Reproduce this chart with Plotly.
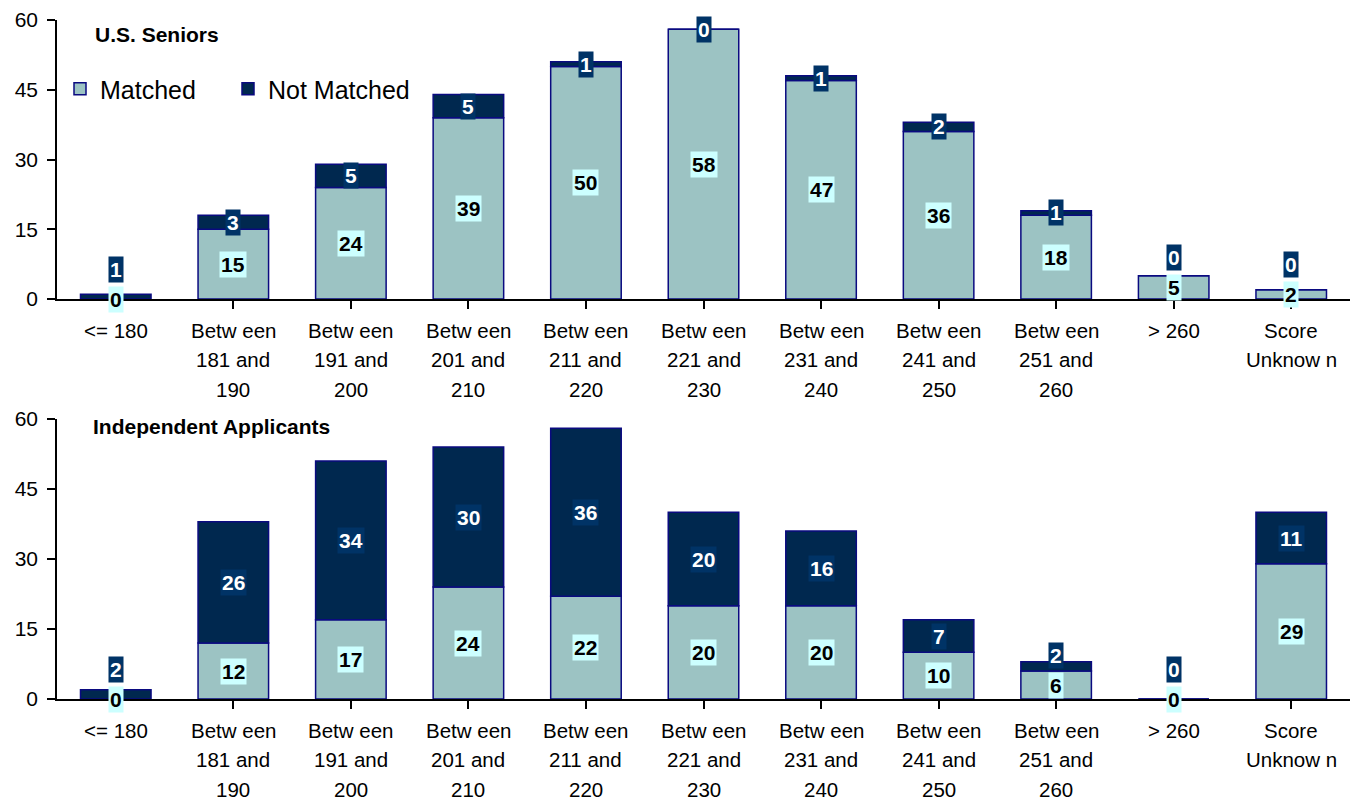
import plotly.graph_objects as go

categories = ["<= 180", "Betw een<br>181 and<br>190", "Betw een<br>191 and<br>200",
              "Betw een<br>201 and<br>210", "Betw een<br>211 and<br>220",
              "Betw een<br>221 and<br>230", "Betw een<br>231 and<br>240",
              "Betw een<br>241 and<br>250", "Betw een<br>251 and<br>260",
              "> 260", "Score<br>Unknow n"]
seniors_matched = [0, 15, 24, 39, 50, 58, 47, 36, 18, 5, 2]
seniors_not_matched = [1, 3, 5, 5, 1, 0, 1, 2, 1, 0, 0]
indep_matched = [0, 12, 17, 24, 22, 20, 20, 10, 6, 0, 29]
indep_not_matched = [2, 26, 34, 30, 36, 20, 16, 7, 2, 0, 11]
y_ticks = [0, 15, 30, 45, 60]
panel_titles = ["U.S. Seniors", "Independent Applicants"]

FONT = "Liberation Sans, Arial, sans-serif"
M_COLOR = "#9CC3C3"
NM_COLOR = "#00284F"
M_LABEL_BG = "#CCFFFF"
NM_LABEL_BG = "#003366"
EDGE = "#0A0A80"

W, H = 1351, 792          # page body has an 8px margin
L, R = 49, 9
PW = W - L - R

x_idx = list(range(len(categories)))
fig = go.Figure()

panels = [(seniors_matched, seniors_not_matched, "x", "y"),
          (indep_matched, indep_not_matched, "x2", "y2")]

annotations = []
LABEL_H = 6.4  # label box height in data units (for overlap avoidance)
for pi, (m, nm, xa, ya) in enumerate(panels):
    fig.add_trace(go.Bar(x=x_idx, y=m, name="Matched", xaxis=xa, yaxis=ya,
                         marker=dict(color=M_COLOR, line=dict(color=EDGE, width=1.5)),
                         width=0.6, showlegend=(pi == 0), legend="legend"))
    fig.add_trace(go.Bar(x=x_idx, y=nm, base=m, name="Not Matched", xaxis=xa, yaxis=ya,
                         marker=dict(color=NM_COLOR, line=dict(color=EDGE, width=1.5)),
                         width=0.6, showlegend=(pi == 0), legend="legend2"))
    for i in x_idx:
        ym = m[i] / 2
        ynm = max(m[i] + nm[i] / 2, ym + LABEL_H)
        annotations.append(dict(x=i, y=ym, xref=xa, yref=ya, text=f"<b>{m[i]}</b>",
                                showarrow=False, bgcolor=M_LABEL_BG, borderpad=1,
                                font=dict(family=FONT, size=21, color="black")))
        annotations.append(dict(x=i, y=ynm, xref=xa, yref=ya, text=f"<b>{nm[i]}</b>",
                                showarrow=False, bgcolor=NM_LABEL_BG, borderpad=1,
                                font=dict(family=FONT, size=21, color="white")))
    # category labels, one line each, ~30px line pitch
    for i, cat in enumerate(categories):
        for k, line in enumerate(cat.split("<br>")):
            annotations.append(dict(x=i, y=0, xref=xa, yref=f"{ya} domain",
                                    yanchor="middle", yshift=-(31 + 29.5 * k),
                                    text=line, showarrow=False,
                                    font=dict(family=FONT, size=20.5, color="black")))

# panel titles
annotations.append(dict(x=(85 - L) / PW, y=1 - 26 / H, xref="paper", yref="paper",
                        xanchor="left", yanchor="middle", showarrow=False,
                        text=f"<b>{panel_titles[0]}</b>",
                        font=dict(family=FONT, size=21, color="black")))
annotations.append(dict(x=(83 - L) / PW, y=1 - 418 / H, xref="paper", yref="paper",
                        xanchor="left", yanchor="middle", showarrow=False,
                        text=f"<b>{panel_titles[1]}</b>",
                        font=dict(family=FONT, size=21, color="black")))

xaxis_common = dict(range=[-0.5, len(categories) - 0.5], tickmode="array",
                    tickvals=x_idx, showticklabels=False, showline=True,
                    linecolor="black", linewidth=1.5, ticks="outside", tickson="boundaries",
                    ticklen=8, tickcolor="black", tickwidth=1.5, showgrid=False,
                    zeroline=False, automargin=False)
yaxis_common = dict(range=[0, 60], tickmode="array", tickvals=y_ticks, showline=True,
                    linecolor="black", linewidth=1.5, ticks="outside", ticklen=8,
                    tickcolor="black", tickwidth=1.5, showgrid=False, zeroline=False,
                    automargin=False, ticklabelstandoff=5,
                    tickfont=dict(family=FONT, size=21, color="black"))

legend_common = dict(orientation="h", y=1 - 81 / H, xanchor="left", yanchor="middle",
                     bgcolor="rgba(0,0,0,0)",
                     font=dict(family=FONT, size=25, color="black"))

fig.update_layout(
    width=W, height=H,
    margin=dict(l=L, r=R, t=0, b=0),
    paper_bgcolor="white", plot_bgcolor="white",
    barmode="overlay",
    xaxis=dict(**xaxis_common, domain=[0, 1], anchor="y"),
    yaxis=dict(**yaxis_common, domain=[1 - 291 / H, 1 - 12 / H], anchor="x"),
    xaxis2=dict(**xaxis_common, domain=[0, 1], anchor="y2"),
    yaxis2=dict(**yaxis_common, domain=[1 - 691 / H, 1 - 411 / H], anchor="x2"),
    legend=dict(**legend_common, x=(52 - L) / PW),
    legend2=dict(**legend_common, x=(220 - L) / PW),
    annotations=annotations,
    showlegend=True,
)

fig.write_html("out.html")
